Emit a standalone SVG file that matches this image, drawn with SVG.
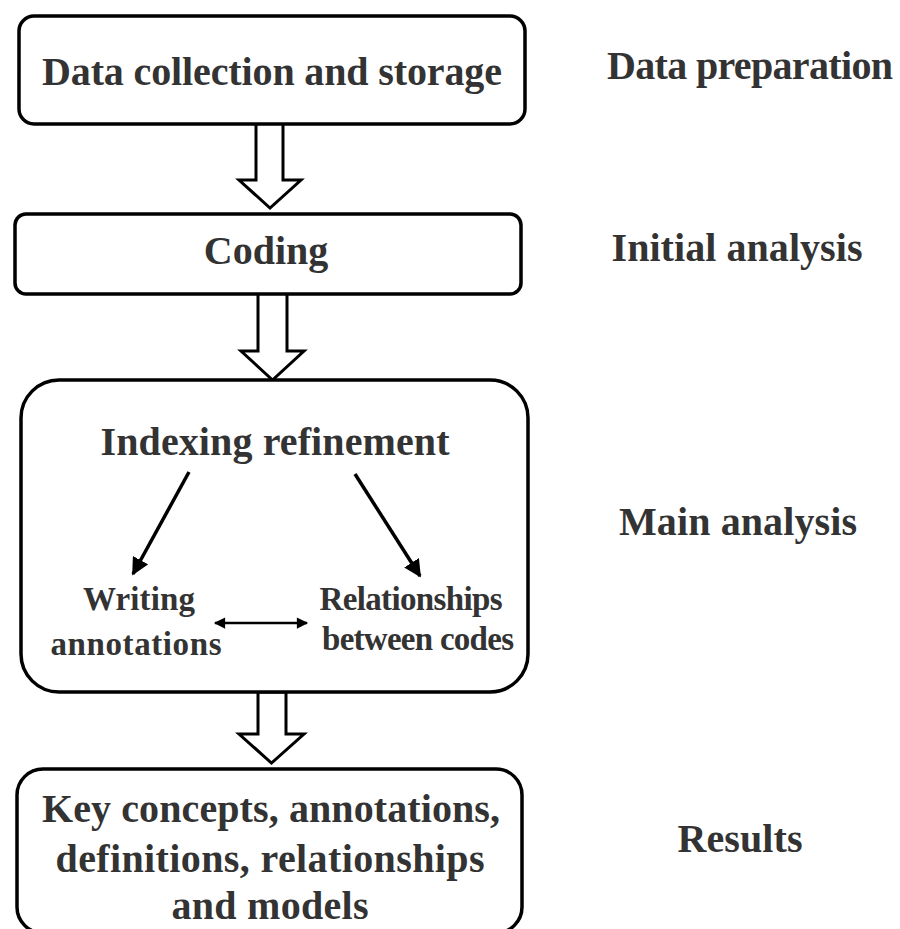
<svg xmlns="http://www.w3.org/2000/svg" width="900" height="929" viewBox="0 0 900 929">
<style>
.box{fill:#fff;stroke:#000;stroke-width:3.5}
.blk{fill:#fff;stroke:#000;stroke-width:3;stroke-linejoin:miter}
.t{font-family:"Liberation Serif","Times New Roman",serif;font-weight:bold;fill:#333;text-anchor:middle}
.big{font-size:40px}
.sm{font-size:33px}
.ln{stroke:#000;stroke-width:3.5;fill:none}
.ln2{stroke:#000;stroke-width:2.5;fill:none}
</style>
<defs>
<marker id="ah" viewBox="0 0 10 10" refX="9" refY="5" markerWidth="5" markerHeight="5" markerUnits="strokeWidth" orient="auto">
<path d="M0,0 L10,5 L0,10 Z" fill="#000"/>
</marker>
<marker id="ah2" viewBox="0 0 10 10" refX="9" refY="5" markerWidth="5" markerHeight="4.5" markerUnits="strokeWidth" orient="auto-start-reverse">
<path d="M0,0 L10,5 L0,10 Z" fill="#000"/>
</marker>
</defs>
<rect width="900" height="929" fill="#fff"/>

<g id="connectors">
<path class="blk" d="M256,122 L283,122 L283,180 L301,180 L270,208 L239,180 L256,180 Z"/>
<path class="blk" d="M258,293 L287,293 L287,351 L304,351 L272.5,380 L241,351 L258,351 Z"/>
<path class="blk" d="M258,692 L286,692 L286,734 L304,734 L271.5,763 L239,734 L258,734 Z"/>
</g>

<g id="n1">
<rect class="box" x="19" y="16" width="506" height="108" rx="15"/>
<text class="t big" x="272" y="85" textLength="460">Data collection and storage</text>
</g>

<g id="n2">
<rect class="box" x="15" y="214" width="506" height="80" rx="11"/>
<text class="t big" x="266" y="264">Coding</text>
</g>

<g id="n3">
<rect class="box" x="21" y="380" width="507" height="312" rx="38"/>
<text class="t big" x="275" y="455" textLength="349">Indexing refinement</text>
<text class="t sm" x="139" y="610" textLength="112">Writing</text>
<text class="t sm" x="136" y="655" textLength="171">annotations</text>
<text class="t sm" x="411" y="610" textLength="183">Relationships</text>
<text class="t sm" x="418" y="650" textLength="192">between codes</text>
<g id="inner-connectors">
<line class="ln" x1="189" y1="472" x2="133" y2="574" marker-end="url(#ah)"/>
<line class="ln" x1="355" y1="474" x2="420" y2="576" marker-end="url(#ah)"/>
<line class="ln2" x1="215" y1="623" x2="307" y2="623" marker-start="url(#ah2)" marker-end="url(#ah2)"/>
</g>
</g>

<g id="n4">
<rect class="box" x="17" y="769" width="505" height="164" rx="26"/>
<text class="t big" x="271" y="822" textLength="458">Key concepts, annotations,</text>
<text class="t big" x="270" y="872" textLength="429">definitions, relationships</text>
<text class="t big" x="270" y="919" textLength="197">and models</text>
</g>

<g id="labels">
<text class="t big" x="750" y="79" textLength="286">Data preparation</text>
<text class="t big" x="737" y="261" textLength="251">Initial analysis</text>
<text class="t big" x="738" y="535" textLength="238">Main analysis</text>
<text class="t big" x="740" y="852" textLength="125">Results</text>
</g>
</svg>
